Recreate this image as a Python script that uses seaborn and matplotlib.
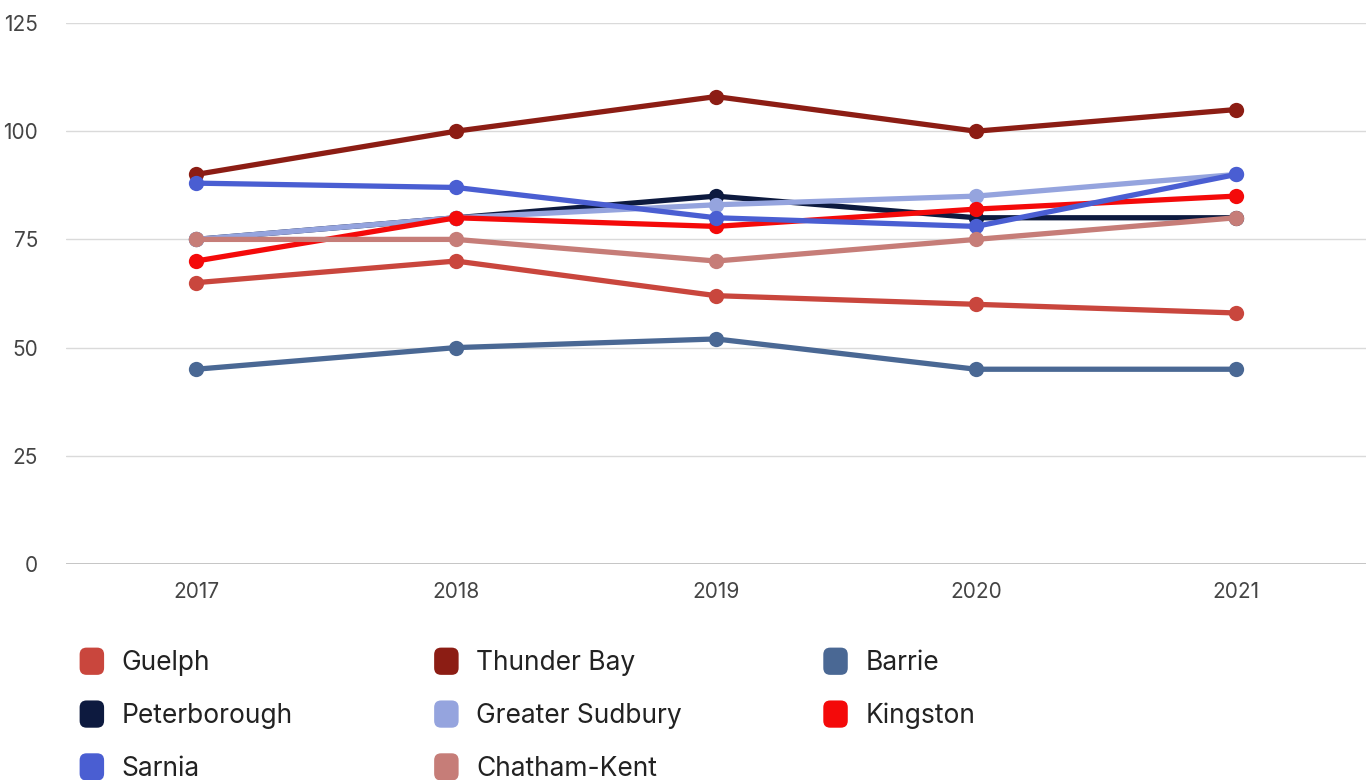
import matplotlib
matplotlib.use("Agg")
import matplotlib.pyplot as plt
from matplotlib.patches import FancyBboxPatch, Patch
from matplotlib.legend_handler import HandlerPatch
import seaborn as sns
import pandas as pd

years = ["2017", "2018", "2019", "2020", "2021"]
guelph = [65, 70, 62, 60, 58]
thunder_bay = [90, 100, 108, 100, 105]
barrie = [45, 50, 52, 45, 45]
peterborough = [75, 80, 85, 80, 80]
greater_sudbury = [75, 80, 83, 85, 90]
kingston = [70, 80, 78, 82, 85]
sarnia = [88, 87, 80, 78, 90]
chatham_kent = [75, 75, 70, 75, 80]

series_names = ["Guelph", "Thunder Bay", "Barrie", "Peterborough",
                "Greater Sudbury", "Kingston", "Sarnia", "Chatham-Kent"]
series_values = [guelph, thunder_bay, barrie, peterborough,
                 greater_sudbury, kingston, sarnia, chatham_kent]
colors = ["#c9463d", "#8c1d14", "#4a6894", "#0d1a3f",
          "#95a4de", "#f40a0a", "#4a5ed2", "#c67d78"]
y_ticks = [0, 25, 50, 75, 100, 125]

rows = []
for name, vals in zip(series_names, series_values):
    for i, (yr, v) in enumerate(zip(years, vals)):
        rows.append({"city": name, "idx": i, "year": yr, "value": v})
df = pd.DataFrame(rows)

sns.set_theme(style="white")
plt.rcParams["font.family"] = ["Inter", "DejaVu Sans"]

fig = plt.figure(figsize=(13.66, 7.8), dpi=100)
ax = fig.add_axes([66 / 1366, 1 - 564 / 780, 1 - 66 / 1366, (564 - 23) / 780])

palette = dict(zip(series_names, colors))
sns.lineplot(data=df, x="idx", y="value", hue="city", hue_order=series_names,
             palette=palette, marker="o", markersize=11, markeredgewidth=0,
             linewidth=3.8, legend=False, ax=ax, zorder=3)

ax.set_xlim(-0.5, 4.5)
ax.set_ylim(0, 125)
ax.set_yticks(y_ticks)
ax.set_xticks(range(len(years)))
ax.set_xticklabels(years)
ax.set_xlabel("")
ax.set_ylabel("")
for s in ax.spines.values():
    s.set_visible(False)
ax.grid(axis="y", color="#dadada", linewidth=1.0, zorder=0)
ax.axhline(0, color="#bdbdbd", linewidth=1.2, zorder=1)
ax.tick_params(axis="both", length=0, labelsize=15, labelcolor="#444444")
ax.tick_params(axis="x", pad=13)
ax.tick_params(axis="y", pad=20)
for lbl in ax.get_yticklabels():
    lbl.set_horizontalalignment("right")


class RoundSquare(HandlerPatch):
    def create_artists(self, legend, orig_handle, xdescent, ydescent,
                       width, height, fontsize, trans):
        size = min(width, height)
        p = FancyBboxPatch((-xdescent + (width - size) / 2, -ydescent - 1),
                           size, size + 2,
                           boxstyle="round,pad=0,rounding_size=5",
                           facecolor=orig_handle.get_facecolor(),
                           edgecolor="none", transform=trans)
        return [p]


# legend, row-major order across 3 columns
order = [0, 3, 6, 1, 4, 7, 2, 5]
handles = [Patch(facecolor=colors[i], edgecolor="none") for i in order]
labels = [series_names[i] for i in order]
leg = fig.legend(handles, labels, loc="upper left",
                 bbox_to_anchor=(78 / 1366, 1 - 649 / 780),
                 ncol=3, frameon=False, fontsize=19,
                 handlelength=1.05, handleheight=1.05, handletextpad=0.6,
                 columnspacing=5.3, labelspacing=0.97, borderaxespad=0,
                 borderpad=0, handler_map={Patch: RoundSquare()})
for t in leg.get_texts():
    t.set_color("#222222")

fig.savefig("out.png", dpi=100, facecolor="white")
